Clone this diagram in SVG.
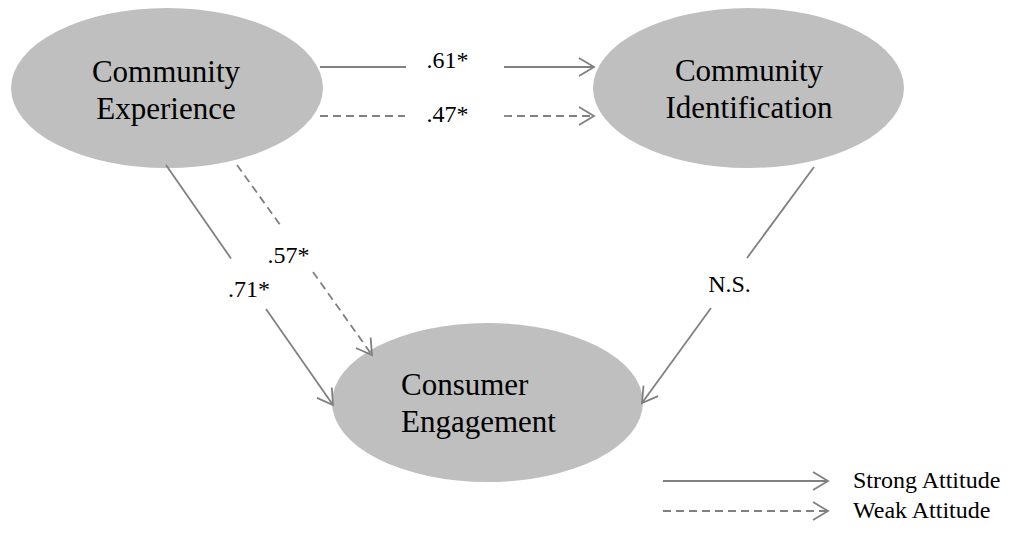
<svg xmlns="http://www.w3.org/2000/svg" width="1021" height="550" viewBox="0 0 1021 550">
<style>
.node{fill:#bfbfbf;stroke:none}
.nt{font-family:"Liberation Serif","Times New Roman",serif;font-size:31px;fill:#000;text-anchor:middle}
.lbl{font-family:"Liberation Serif","Times New Roman",serif;font-size:24px;fill:#000;text-anchor:middle}
.leg{font-family:"Liberation Serif","Times New Roman",serif;font-size:24px;fill:#000}
.c{stroke:#808080;stroke-width:1.8;fill:none}
.d{stroke-dasharray:8 5}
</style>
<defs>
<marker id="ah" markerUnits="userSpaceOnUse" markerWidth="20" markerHeight="22" viewBox="-17 -11 19 22" refX="0" refY="0" orient="auto">
<path d="M-15,-9 L0,0 L-15,9" fill="none" stroke="#808080" stroke-width="1.8"/>
</marker>
</defs>
<rect width="1021" height="550" fill="#fff"/>
<g id="ce">
<ellipse class="node" cx="167" cy="88" rx="156" ry="80"/>
<text class="nt" x="166" y="82">Community</text>
<text class="nt" x="166" y="119">Experience</text>
</g>
<g id="ci">
<ellipse class="node" cx="748.5" cy="88" rx="155.5" ry="80"/>
<text class="nt" x="749" y="81">Community</text>
<text class="nt" x="749" y="118">Identification</text>
</g>
<g id="eng">
<ellipse class="node" cx="487.5" cy="402.5" rx="155.5" ry="79.5"/>
<text class="nt" x="401" y="395" style="text-anchor:start">Consumer</text>
<text class="nt" x="401" y="432" style="text-anchor:start">Engagement</text>
</g>
<g id="connectors">
<line class="c" x1="320" y1="67" x2="406" y2="67"/>
<line class="c" x1="504" y1="67" x2="594" y2="67" marker-end="url(#ah)"/>
<line class="c d" x1="320" y1="116" x2="405" y2="116"/>
<line class="c d" x1="504" y1="116" x2="594" y2="116" marker-end="url(#ah)"/>
<line class="c" x1="166" y1="165" x2="231" y2="258.5"/>
<line class="c" x1="266" y1="309" x2="333" y2="405" marker-end="url(#ah)"/>
<line class="c d" x1="237" y1="165" x2="281" y2="226"/>
<line class="c d" x1="313" y1="272" x2="372" y2="355" marker-end="url(#ah)"/>
<line class="c" x1="814" y1="167" x2="747" y2="258"/>
<line class="c" x1="711" y1="308" x2="642" y2="403" marker-end="url(#ah)"/>
</g>
<g id="labels">
<text class="lbl" x="447.5" y="68">.61*</text>
<text class="lbl" x="447.5" y="122">.47*</text>
<text class="lbl" x="249" y="297">.71*</text>
<text class="lbl" x="288.5" y="263">.57*</text>
<text class="lbl" x="729.5" y="292">N.S.</text>
</g>
<g id="legend">
<line class="c" x1="663" y1="481" x2="828" y2="481" marker-end="url(#ah)"/>
<text class="leg" x="853" y="488">Strong Attitude</text>
<line class="c d" x1="663" y1="511" x2="828" y2="511" marker-end="url(#ah)"/>
<text class="leg" x="853" y="518">Weak Attitude</text>
</g>
</svg>
